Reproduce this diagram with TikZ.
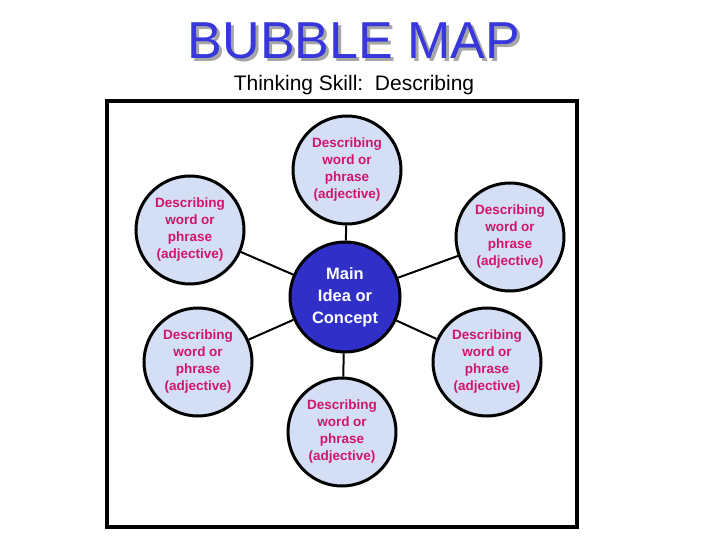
\documentclass[tikz,border=0pt]{standalone}
\usepackage{fontspec}
\setmainfont{Liberation Sans}
\begin{document}
\begin{tikzpicture}[x=1pt,y=-1pt,
  bub/.style={circle,draw=black,line width=3pt,fill=bubfill,minimum size=108pt,inner sep=0pt,align=center,text=txtpink,font=\bfseries\fontsize{13.5}{17}\selectfont},
  hub/.style={circle,draw=black,line width=3pt,fill=hubblue,minimum size=110pt,inner sep=0pt,align=center,text=white,font=\bfseries\fontsize{16.5}{22}\selectfont},
  link/.style={line width=2pt,draw=black}]
\definecolor{bubfill}{RGB}{212,222,244}
\definecolor{txtpink}{RGB}{210,20,110}
\definecolor{hubblue}{RGB}{48,48,200}
\definecolor{titleblue}{RGB}{55,55,220}
\useasboundingbox (0,0) rectangle (720,540);
\node (title) at (354,42) {\fontsize{52}{52}\selectfont\rlap{\raisebox{-3pt}{\hspace{3pt}\color{gray!70}BUBBLE MAP}}\color{titleblue}BUBBLE MAP};
\node (sub) at (354,85) {\fontsize{21}{24}\selectfont Thinking Skill:\ \ Describing};
\draw[line width=4pt] (107,101) rectangle (577,527);
\node[hub] (c) at (345,297) {Main\\Idea or\\Concept};
\node[bub] (t) at (347,170) {Describing\\word or\\phrase\\(adjective)};
\node[bub] (ul) at (190,230) {Describing\\word or\\phrase\\(adjective)};
\node[bub] (ll) at (198,362) {Describing\\word or\\phrase\\(adjective)};
\node[bub] (b) at (342,432) {Describing\\word or\\phrase\\(adjective)};
\node[bub] (ur) at (510,237) {Describing\\word or\\phrase\\(adjective)};
\node[bub] (lr) at (487,362) {Describing\\word or\\phrase\\(adjective)};
\foreach \n in {t,ul,ll,b,ur,lr} \draw[link] (c) -- (\n);
\end{tikzpicture}
\end{document}
